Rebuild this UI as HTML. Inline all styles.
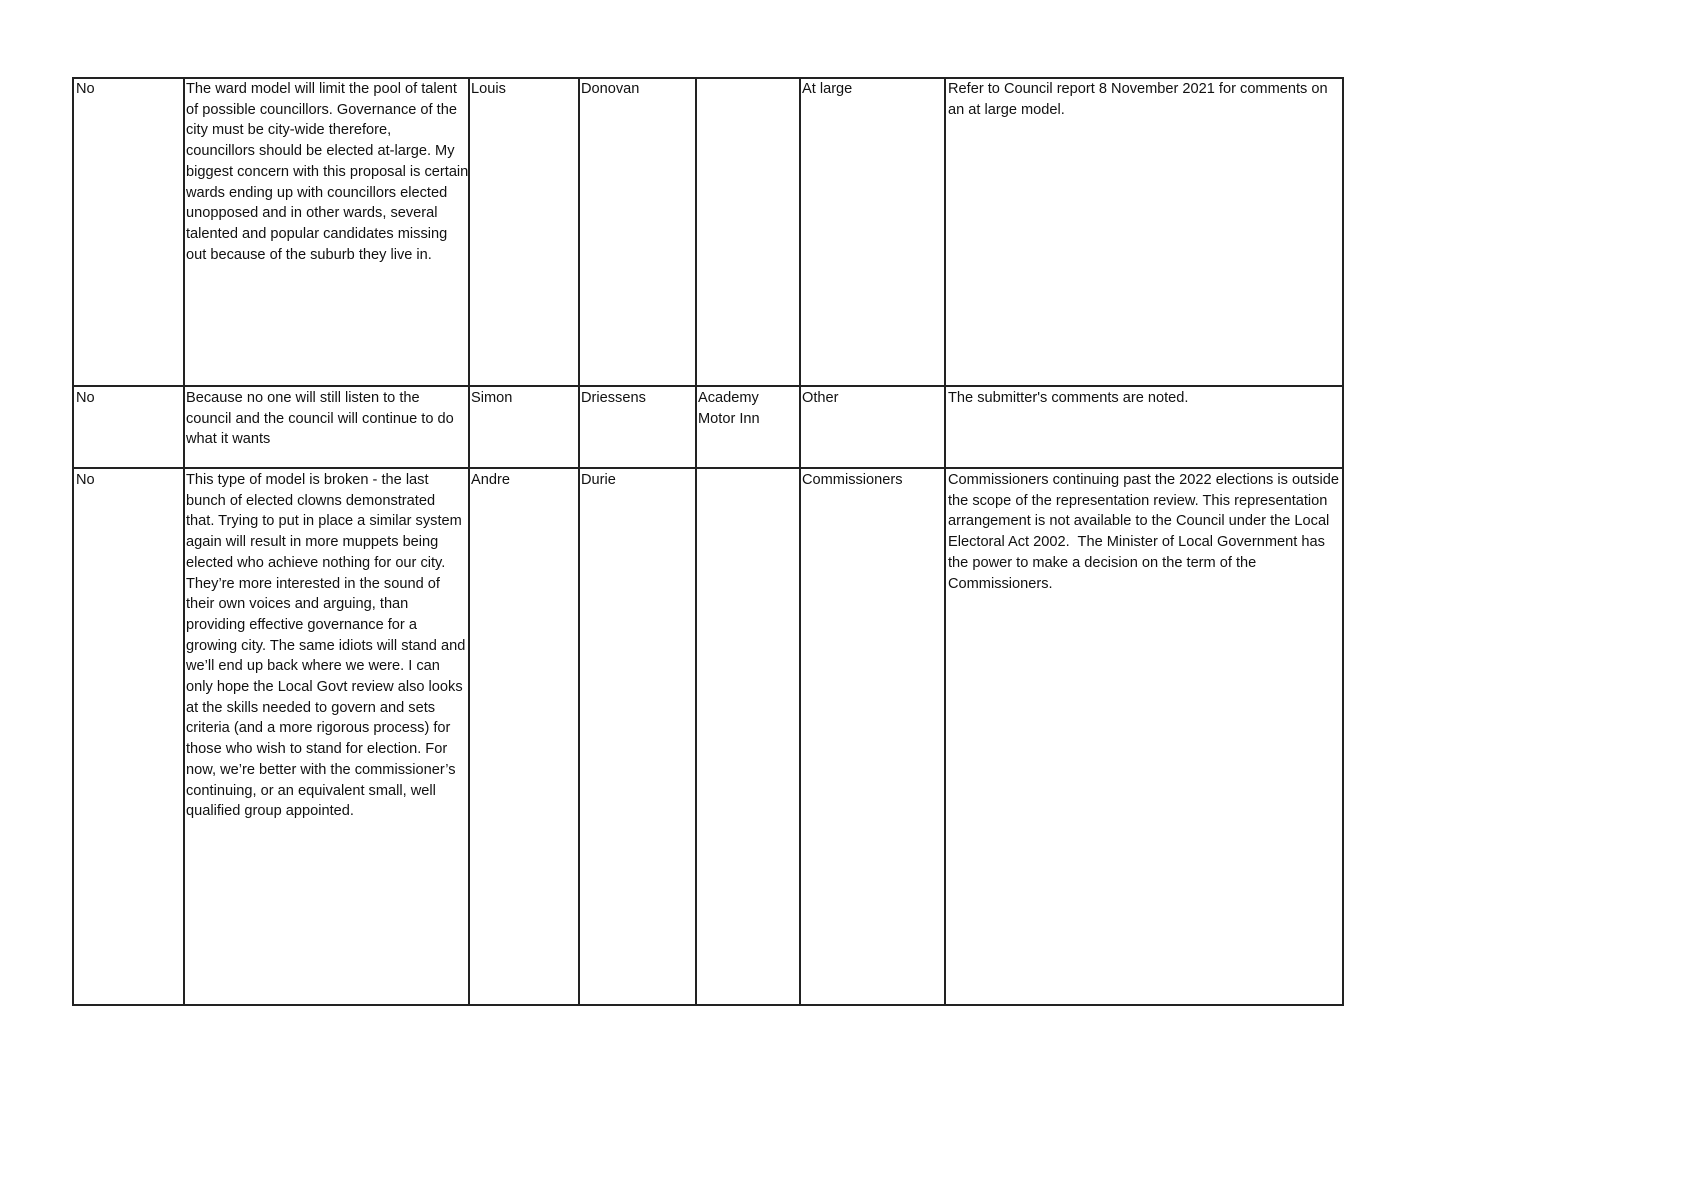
<!DOCTYPE html>
<html><head><meta charset="utf-8"><style>
body{margin:0;width:1689px;height:1194px;background:#fff;position:relative;overflow:hidden;font-family:"Liberation Sans",sans-serif;}
.l{position:absolute;background:#222;}
.t{position:absolute;font-size:14.6px;line-height:20.7px;color:#111;white-space:nowrap;}
</style></head><body>
<div class="l" style="left:72px;top:77px;width:1272px;height:2px"></div>
<div class="l" style="left:72px;top:385px;width:1272px;height:2px"></div>
<div class="l" style="left:72px;top:467px;width:1272px;height:2px"></div>
<div class="l" style="left:72px;top:1004px;width:1272px;height:2px"></div>
<div class="l" style="left:72px;top:77px;width:2px;height:929px"></div>
<div class="l" style="left:183px;top:77px;width:2px;height:929px"></div>
<div class="l" style="left:468px;top:77px;width:2px;height:929px"></div>
<div class="l" style="left:578px;top:77px;width:2px;height:929px"></div>
<div class="l" style="left:695px;top:77px;width:2px;height:929px"></div>
<div class="l" style="left:799px;top:77px;width:2px;height:929px"></div>
<div class="l" style="left:944px;top:77px;width:2px;height:929px"></div>
<div class="l" style="left:1342px;top:77px;width:2px;height:929px"></div>

<div class="t" style="left:76px;top:79px">No</div>
<div class="t" style="left:186px;top:79px">The ward model will limit the pool of talent<br>of possible councillors. Governance of the<br>city must be city-wide therefore,<br>councillors should be elected at-large. My<br>biggest concern with this proposal is certain<br>wards ending up with councillors elected<br>unopposed and in other wards, several<br>talented and popular candidates missing<br>out because of the suburb they live in.</div>
<div class="t" style="left:471px;top:79px">Louis</div>
<div class="t" style="left:581px;top:79px">Donovan</div>
<div class="t" style="left:802px;top:79px">At large</div>
<div class="t" style="left:948px;top:79px">Refer to Council report 8 November 2021 for comments on<br>an at large model.</div>

<div class="t" style="left:76px;top:388px">No</div>
<div class="t" style="left:186px;top:388px">Because no one will still listen to the<br>council and the council will continue to do<br>what it wants</div>
<div class="t" style="left:471px;top:388px">Simon</div>
<div class="t" style="left:581px;top:388px">Driessens</div>
<div class="t" style="left:698px;top:388px">Academy<br>Motor Inn</div>
<div class="t" style="left:802px;top:388px">Other</div>
<div class="t" style="left:948px;top:388px">The submitter's comments are noted.</div>

<div class="t" style="left:76px;top:470px">No</div>
<div class="t" style="left:186px;top:470px">This type of model is broken - the last<br>bunch of elected clowns demonstrated<br>that. Trying to put in place a similar system<br>again will result in more muppets being<br>elected who achieve nothing for our city.<br>They’re more interested in the sound of<br>their own voices and arguing, than<br>providing effective governance for a<br>growing city. The same idiots will stand and<br>we’ll end up back where we were. I can<br>only hope the Local Govt review also looks<br>at the skills needed to govern and sets<br>criteria (and a more rigorous process) for<br>those who wish to stand for election. For<br>now, we’re better with the commissioner’s<br>continuing, or an equivalent small, well<br>qualified group appointed.</div>
<div class="t" style="left:471px;top:470px">Andre</div>
<div class="t" style="left:581px;top:470px">Durie</div>
<div class="t" style="left:802px;top:470px">Commissioners</div>
<div class="t" style="left:948px;top:470px">Commissioners continuing past the 2022 elections is outside<br>the scope of the representation review. This representation<br>arrangement is not available to the Council under the Local<br>Electoral Act 2002.&nbsp; The Minister of Local Government has<br>the power to make a decision on the term of the<br>Commissioners.</div>
</body></html>
